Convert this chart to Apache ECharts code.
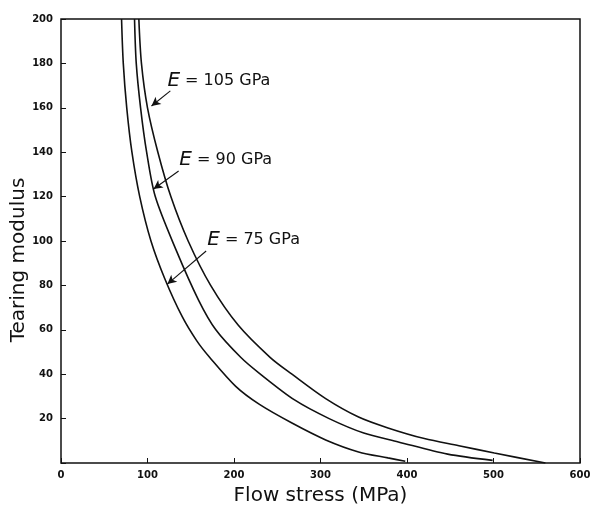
<!DOCTYPE html>
<html>
<head>
<meta charset="utf-8">
<script src="https://cdn.jsdelivr.net/npm/echarts@6/dist/echarts.min.js"></script>
<style>html,body{margin:0;padding:0;background:#fff;}#c{width:590px;height:506px;}</style>
</head>
<body>
<div id="c"></div>
<script>
// Tearing modulus vs flow stress
const xTicks = [0, 100, 200, 300, 400, 500, 600];
const yTicks = [20, 40, 60, 80, 100, 120, 140, 160, 180, 200];

const curveE75 = [[70,200],[72,180],[76,160],[82,140],[91,120],[104,100],[120,83],[140,66],[157,55],[172,47.5],[202,34.5],[229,26.5],[267,18],[306,10.4],[344,5],[378,2.3],[398,0.8]];
const curveE90 = [[85,200],[87,180],[92,160],[99,140],[109,120],[133,96],[159,73.4],[179,60],[208,47.5],[229,40.5],[270,28.4],[310,20],[350,13.5],[390,9.5],[447,4],[499,1.2]];
const curveE105 = [[90,200],[93,180],[100,160],[112,140],[127,120],[147,100],[173,80],[205,62],[242,47.5],[267,40],[306,29],[344,20.7],[378,15.8],[420,11],[460,7.8],[501,4.5],[560,0]];

const labelText = ['105 GPa', '90 GPa', '75 GPa'];
const labelPos = [[123,172],[136.8,136.5],[169,100.5]];
const arrowFrom = [[126.4,167.6],[136,131.5],[167.8,95.5]];
const arrowTo = [[104.6,160.8],[107,123.4],[123,80.6]];

const chart = echarts.init(document.getElementById('c'), null, {renderer: 'canvas'});
const tickFont = {fontFamily: 'DejaVu Sans', fontWeight: 'bold', fontSize: 10, color: '#111'};

function mkSeries(data, i) {
  return {
    type: 'line',
    data: data,
    smooth: 0.3,
    showSymbol: false,
    symbol: 'none',
    lineStyle: {color: '#111', width: 1.6},
    markLine: {
      silent: true,
      symbol: ['none', 'arrow'],
      symbolSize: [7, 9],
      lineStyle: {color: '#111', width: 1.1, type: 'solid'},
      label: {show: false},
      data: [[{coord: arrowFrom[i]}, {coord: arrowTo[i]}]]
    },
    markPoint: {
      silent: true,
      symbol: 'circle',
      symbolSize: 0,
      data: [{coord: labelPos[i]}],
      label: {
        show: true,
        position: 'right',
        distance: 0,
        formatter: '{e|E}{t| = ' + labelText[i] + '}',
        rich: {
          e: {fontFamily: 'DejaVu Sans', fontStyle: 'italic', fontSize: 20, color: '#111'},
          t: {fontFamily: 'DejaVu Sans', fontSize: 16, color: '#111'}
        }
      }
    }
  };
}

chart.setOption({
  animation: false,
  backgroundColor: '#fff',
  grid: {left: 61, right: 10, top: 19, bottom: 43, outerBoundsMode: 'none', containLabel: false,
         show: true, borderColor: '#111', borderWidth: 1.5, backgroundColor: 'transparent'},
  xAxis: {
    type: 'value', min: 0, max: 600, interval: 100,
    name: 'Flow stress (MPa)', nameLocation: 'middle', nameGap: 23, nameMoveOverlap: false,
    nameTextStyle: {fontFamily: 'DejaVu Sans', fontSize: 20, color: '#111'},
    axisLine: {show: false},
    axisTick: {show: true, inside: true, length: 5, lineStyle: {color: '#111', width: 1}},
    axisLabel: Object.assign({margin: 7, formatter: v => xTicks.includes(v) ? String(v) : ''}, tickFont),
    splitLine: {show: false}
  },
  yAxis: {
    type: 'value', min: 0, max: 200, interval: 20,
    name: 'Tearing modulus', nameLocation: 'middle', nameGap: 32, nameRotate: 90, nameMoveOverlap: false,
    nameTextStyle: {fontFamily: 'DejaVu Sans', fontSize: 20, color: '#111', padding: [0, 38, 0, 0]},
    axisLine: {show: false},
    axisTick: {show: true, inside: true, length: 5, lineStyle: {color: '#111', width: 1}},
    axisLabel: Object.assign({margin: 8, formatter: v => yTicks.includes(v) ? String(v) : ''}, tickFont),
    splitLine: {show: false}
  },
  series: [mkSeries(curveE105, 0), mkSeries(curveE90, 1), mkSeries(curveE75, 2)]
});
</script>
</body>
</html>
